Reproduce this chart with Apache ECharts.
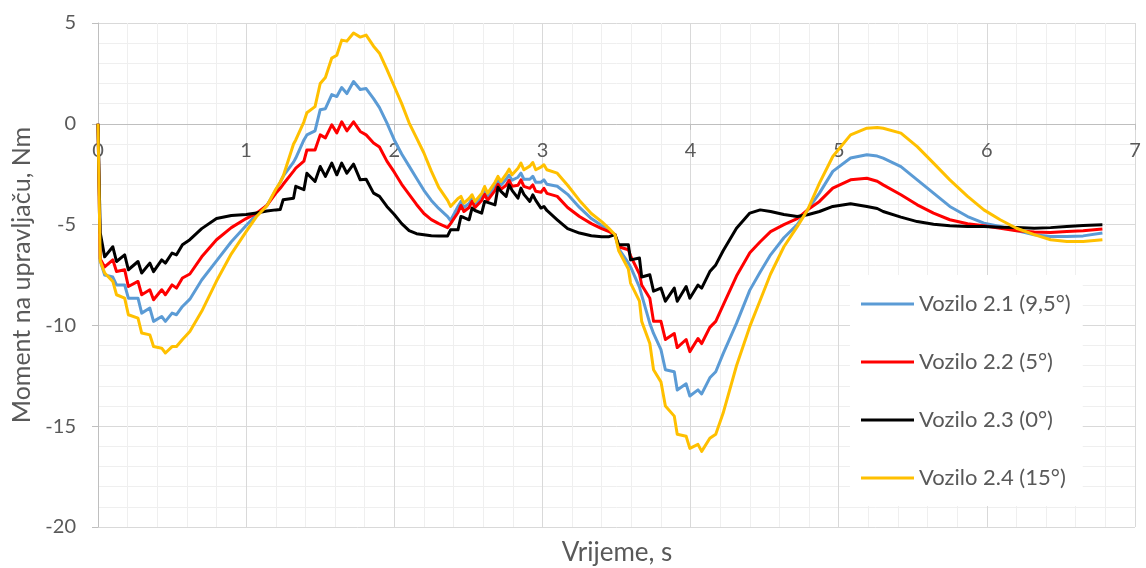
<!DOCTYPE html>
<html>
<head>
<meta charset="utf-8">
<script src="https://cdn.jsdelivr.net/npm/echarts@6/dist/echarts.min.js"></script>
<style>
html,body{margin:0;padding:0;background:#fff;}
#chart{width:1146px;height:568px;}
</style>
</head>
<body>
<div id="chart"></div>
<script>
// time (s)
const time = [
  0, 0.015, 0.045, 0.1, 0.125, 0.18, 0.205, 0.27, 0.295, 0.35, 0.375, 0.43, 0.455, 0.5, 0.53, 0.57, 0.62, 0.7, 0.8, 0.9, 1.0, 1.07,
  1.14, 1.2, 1.23, 1.25, 1.32, 1.335, 1.39, 1.41, 1.465, 1.5, 1.535, 1.578, 1.612, 1.645, 1.68, 1.725, 1.77, 1.81, 1.86, 1.9, 1.95, 2.0, 2.05, 2.1, 2.15, 2.2, 2.25, 2.3,
  2.36, 2.38, 2.43, 2.45, 2.47, 2.505, 2.525, 2.545, 2.59, 2.61, 2.63, 2.68, 2.70, 2.72, 2.755, 2.775, 2.795, 2.835, 2.855, 2.875, 2.915, 2.935, 2.955, 2.99, 3.01, 3.03,
  3.1, 3.17, 3.25, 3.33, 3.4, 3.45,
  3.49, 3.515, 3.58, 3.595, 3.655, 3.67, 3.725, 3.75, 3.8, 3.83, 3.89, 3.91, 3.97, 3.995, 4.05, 4.075, 4.13, 4.17, 4.22, 4.31, 4.4, 4.47, 4.54, 4.63, 4.72, 4.79,
  4.87, 4.96, 5.08, 5.19, 5.26, 5.3, 5.42, 5.53, 5.64, 5.75, 5.87, 5.98, 6.09, 6.2, 6.32, 6.43, 6.54, 6.65, 6.78
];
// Vozilo 2.1 (9,5°)
const v21 = [
  0, -6.8, -7.5, -7.6, -7.99, -7.99, -8.65, -8.65, -9.39, -9.14, -9.8, -9.56, -9.8, -9.39, -9.47, -9.06, -8.7, -7.75, -6.8, -5.85, -5.05, -4.51,
  -4.05, -3.3, -2.9, -2.6, -1.9, -1.7, -0.8, -0.55, -0.35, 0.7, 0.75, 1.45, 1.35, 1.8, 1.5, 2.1, 1.7, 1.75, 1.25, 0.8, 0.05, -0.8, -1.5, -2.1, -2.7, -3.3, -3.8, -4.2,
  -4.6, -4.8, -4.1, -3.85, -4.15, -3.95, -3.7, -4.0, -3.6, -3.3, -3.6, -3.05, -2.8, -3.05, -2.75, -2.55, -2.8, -2.65, -2.45, -2.75, -2.75, -2.6, -2.9, -2.9, -2.78, -3.0,
  -3.1, -3.5, -4.15, -4.7, -5.05, -5.3,
  -5.5, -6.2, -6.9, -7.1, -8.1, -8.5, -9.9, -10.4, -11.2, -12.2, -12.3, -13.2, -12.9, -13.5, -13.2, -13.4, -12.6, -12.3, -11.4, -9.9, -8.25, -7.35, -6.5, -5.65, -5.0, -4.27,
  -3.44, -2.36, -1.7, -1.54, -1.6, -1.7, -2.12, -2.78, -3.44, -4.1, -4.6, -4.93, -5.09, -5.3, -5.5, -5.59, -5.59, -5.56, -5.42
];
// Vozilo 2.2 (5°)
const v22 = [
  0, -6.7, -7.1, -6.75, -7.33, -7.24, -8.07, -7.82, -8.48, -8.23, -8.73, -8.23, -8.48, -7.99, -8.15, -7.65, -7.45, -6.6, -5.75, -5.15, -4.7, -4.43,
  -4.05, -3.45, -3.2, -3.0, -2.35, -2.2, -1.85, -1.3, -1.3, -0.55, -0.7, -0.05, -0.45, 0.1, -0.35, 0.1, -0.38, -0.55, -0.95, -1.15, -1.85, -2.4, -3.0, -3.5, -4.0, -4.45, -4.75, -4.95,
  -5.15, -4.95, -4.4, -4.05, -4.35, -4.15, -3.85, -4.15, -3.8, -3.5, -3.8, -3.3, -3.0, -3.25, -3.05, -2.8, -3.1, -3.05, -2.78, -3.1, -3.2, -3.03, -3.35, -3.4, -3.2, -3.45,
  -3.6, -4.15, -4.6, -4.95, -5.2, -5.35,
  -5.5, -6.1, -6.25, -6.55, -7.45, -8.0, -8.65, -9.8, -9.8, -10.7, -10.4, -11.1, -10.7, -11.3, -10.65, -10.9, -10.1, -9.8, -9.0, -7.55, -6.4, -5.85, -5.35, -5.0, -4.7, -4.27,
  -3.85, -3.19, -2.78, -2.7, -2.85, -3.03, -3.52, -4.02, -4.43, -4.76, -4.96, -5.06, -5.18, -5.3, -5.37, -5.39, -5.34, -5.3, -5.22
];
// Vozilo 2.3 (0°)
const v23 = [
  0, -5.4, -6.6, -6.1, -6.83, -6.5, -7.24, -6.83, -7.4, -6.91, -7.33, -6.75, -6.91, -6.41, -6.5, -6.0, -5.75, -5.2, -4.7, -4.55, -4.5, -4.42,
  -4.33, -4.27, -4.25, -3.77, -3.69, -3.1, -3.27, -2.45, -2.86, -2.12, -2.61, -1.95, -2.53, -1.95, -2.45, -2.0, -2.78, -2.75, -3.44, -3.6, -4.1, -4.5, -4.95, -5.3, -5.45, -5.5, -5.55, -5.56,
  -5.56, -5.26, -5.26, -4.6, -4.65, -4.76, -4.18, -4.3, -4.43, -3.85, -3.9, -4.02, -3.15, -3.35, -3.6, -3.03, -3.3, -3.69, -3.19, -3.5, -3.85, -3.52, -3.8, -4.18, -4.1, -4.3,
  -4.76, -5.2, -5.42, -5.55, -5.6, -5.6,
  -5.5, -6.0, -6.0, -6.75, -6.66, -7.6, -7.49, -8.3, -8.15, -8.8, -8.15, -8.8, -8.07, -8.65, -8.0, -8.15, -7.33, -7.0, -6.3, -5.18, -4.43, -4.27, -4.35, -4.5, -4.6, -4.51,
  -4.35, -4.1, -3.97, -4.1, -4.2, -4.35, -4.63, -4.85, -4.98, -5.06, -5.09, -5.1, -5.13, -5.15, -5.18, -5.15, -5.09, -5.05, -5.01
];
// Vozilo 2.4 (15°)
const v24 = [
  0, -6.8, -7.4, -7.82, -8.48, -8.65, -9.47, -9.64, -10.38, -10.47, -11.05, -11.13, -11.37, -11.05, -11.05, -10.7, -10.3, -9.3, -7.8, -6.45, -5.35, -4.6,
  -4.07, -3.25, -2.9, -2.6, -1.0, -0.8, 0.1, 0.55, 0.85, 2.0, 2.3, 3.26, 3.4, 4.15, 4.1, 4.5, 4.3, 4.4, 3.85, 3.5, 2.7, 1.85, 1.0, 0.05, -0.7, -1.45, -2.35, -3.15,
  -3.8, -4.1, -3.7, -3.6, -3.93, -3.7, -3.52, -3.85, -3.45, -3.11, -3.44, -2.9, -2.61, -2.86, -2.5, -2.25, -2.53, -2.2, -1.95, -2.28, -2.1, -1.92, -2.28, -2.15, -2.03, -2.28,
  -2.45, -3.05, -3.8, -4.45, -4.85, -5.2,
  -5.5, -6.3, -7.2, -7.9, -8.8, -9.8, -10.9, -12.2, -12.8, -14.0, -14.5, -15.4, -15.5, -16.1, -15.9, -16.25, -15.6, -15.4, -14.35, -12.0, -10.05, -8.75, -7.45, -6.1, -5.1, -4.27,
  -2.94, -1.62, -0.55, -0.22, -0.18, -0.22, -0.46, -1.13, -1.95, -2.78, -3.6, -4.27, -4.76, -5.18, -5.5, -5.75, -5.84, -5.84, -5.75
];
const seriesNames = ['Vozilo 2.1 (9,5°)', 'Vozilo 2.2 (5°)', 'Vozilo 2.3 (0°)', 'Vozilo 2.4 (15°)'];
const seriesValues = [v21, v22, v23, v24];
const seriesColors = ['#5B9BD5', '#FF0000', '#000000', '#FFC000'];
const xTitle = 'Vrijeme, s';
const yTitle = 'Moment na upravljaču, Nm';

const FONT = 'Lato';
const TXT = '#595959';

// plot area layout (pixels)
const G = {left: 98, right: 11, top: 23, bottom: 41};
const yMin = -20, yMax = 5;
const plotH = 568 - G.top - G.bottom;
// shift the x axis up to where y = 0 lies
const xAxisOffset = -plotH * (0 - yMin) / (yMax - yMin);

const chart = echarts.init(document.getElementById('chart'), null, {renderer: 'canvas'});
chart.setOption({
  animation: false,
  backgroundColor: '#ffffff',
  textStyle: {fontFamily: FONT},
  grid: {left: G.left, right: G.right, top: G.top, bottom: G.bottom, containLabel: false},
  legend: {
    orient: 'vertical',
    left: 850, top: 275,
    backgroundColor: '#ffffff',
    padding: [18, 12, 17, 11],
    itemWidth: 53, itemHeight: 20, itemGap: 36,
    icon: 'path://M0,0 L53,0 L53,3 L0,3 Z',
    textStyle: {fontFamily: FONT, fontSize: 22, color: TXT, lineHeight: 20},
    data: seriesNames
  },
  graphic: [{
    type: 'text', x: 617, y: 553, silent: true,
    style: {text: xTitle, fontFamily: FONT, fontSize: 26, fill: TXT, align: 'center', verticalAlign: 'middle'}
  }],
  xAxis: {
    type: 'value', min: 0, max: 7, interval: 1,
    position: 'bottom',
    offset: xAxisOffset,
    axisLine: {onZero: false, lineStyle: {color: '#bfbfbf', width: 1}},
    axisTick: {show: true, length: 6, lineStyle: {color: '#bfbfbf'}},
    axisLabel: {fontFamily: FONT, fontSize: 20, color: TXT, margin: 17},
    splitLine: {show: true, lineStyle: {color: '#d9d9d9', width: 1}},
    minorTick: {show: false, splitNumber: 5},
    minorSplitLine: {show: true, lineStyle: {color: '#efefef', width: 1}}
  },
  yAxis: {
    type: 'value', min: yMin, max: yMax, interval: 5,
    axisLine: {show: true, onZero: false, lineStyle: {color: '#bfbfbf', width: 1}},
    axisTick: {show: true, length: 6, lineStyle: {color: '#bfbfbf'}},
    axisLabel: {fontFamily: FONT, fontSize: 20, color: TXT, margin: 22},
    splitLine: {show: true, lineStyle: {color: '#d9d9d9', width: 1}},
    minorTick: {show: false, splitNumber: 5},
    minorSplitLine: {show: true, lineStyle: {color: '#efefef', width: 1}},
    name: yTitle, nameLocation: 'middle', nameGap: 60,
    nameTextStyle: {fontFamily: FONT, fontSize: 25, color: TXT}
  },
  series: seriesNames.map((name, k) => ({
    name: name,
    type: 'line',
    symbol: 'none',
    showSymbol: false,
    color: seriesColors[k],
    lineStyle: {color: seriesColors[k], width: 3, join: 'round'},
    data: time.map((t, i) => [t, seriesValues[k][i]])
  }))
});
</script>
</body>
</html>
